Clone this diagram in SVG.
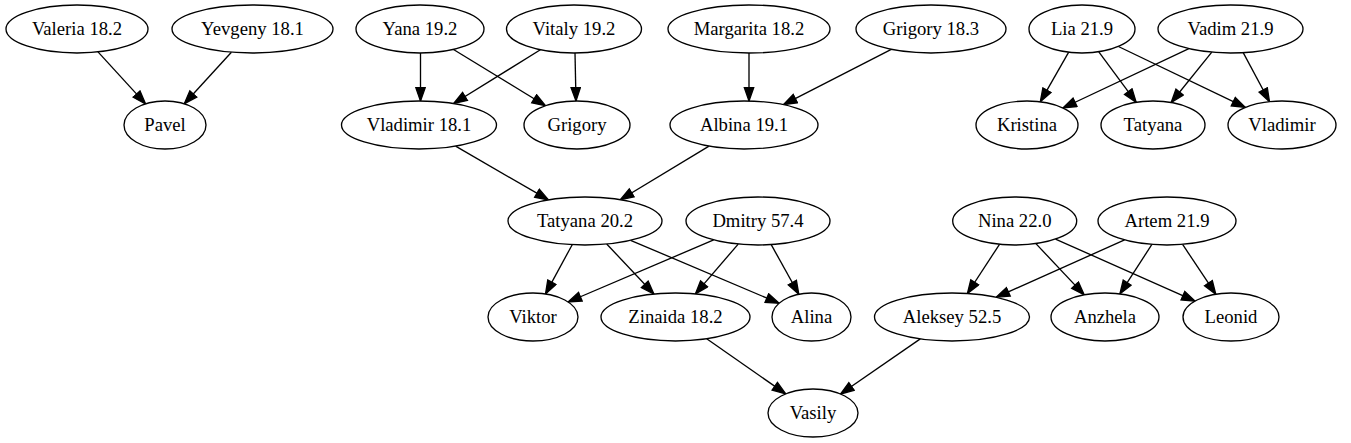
<svg xmlns="http://www.w3.org/2000/svg" width="1351" height="443" viewBox="0 0 1351 443">
<style>
.n ellipse{fill:#fff;stroke:#000;stroke-width:1.33}
.n text{font-family:"Liberation Serif","Times New Roman",Times,"DejaVu Serif","Noto Serif",serif;font-size:18.67px;text-anchor:middle;fill:#000}
#edges line{stroke:#000;stroke-width:1.33;marker-end:url(#ah)}
</style>
<defs>
<marker id="ah" markerUnits="userSpaceOnUse" markerWidth="16" markerHeight="12" viewBox="-1 -1 16 12" refX="13.33" refY="4.67" orient="auto">
<path d="M0,0 L13.33,4.67 L0,9.33 z" fill="#000" stroke="#000" stroke-width="1.33"/>
</marker>
</defs>
<rect width="1351" height="443" fill="#fff"/>
<g id="edges">
<line x1="98" y1="51.9" x2="145.6" y2="103.9"/>
<line x1="231.4" y1="52.2" x2="184.3" y2="103.8"/>
<line x1="420.5" y1="53" x2="420.5" y2="101"/>
<line x1="453.5" y1="49.5" x2="545.5" y2="105.7"/>
<line x1="540.4" y1="49.8" x2="453.7" y2="103.5"/>
<line x1="575" y1="53" x2="576" y2="101"/>
<line x1="749" y1="53" x2="749" y2="101"/>
<line x1="891.3" y1="49.4" x2="783.5" y2="104.7"/>
<line x1="1068.7" y1="52.2" x2="1040.3" y2="101.8"/>
<line x1="1098.8" y1="51.8" x2="1136.2" y2="102.3"/>
<line x1="1118.4" y1="46.5" x2="1245.3" y2="107.4"/>
<line x1="1188.9" y1="48.6" x2="1063" y2="108"/>
<line x1="1211.8" y1="52.2" x2="1171.2" y2="102.5"/>
<line x1="1243.2" y1="52.6" x2="1269.5" y2="101.7"/>
<line x1="455.6" y1="146.2" x2="548.5" y2="199.9"/>
<line x1="709" y1="146.1" x2="620.3" y2="199.7"/>
<line x1="572.2" y1="244.7" x2="545.5" y2="293.9"/>
<line x1="606.7" y1="244" x2="653.9" y2="294"/>
<line x1="630.6" y1="240.3" x2="779.1" y2="303.3"/>
<line x1="713.7" y1="239.9" x2="568.1" y2="302"/>
<line x1="738.2" y1="244.1" x2="695.4" y2="293.9"/>
<line x1="771.2" y1="244.6" x2="798.8" y2="294.3"/>
<line x1="999.5" y1="244.3" x2="967.4" y2="293.5"/>
<line x1="1035.9" y1="243.6" x2="1084.2" y2="294.9"/>
<line x1="1055.5" y1="239.1" x2="1195.1" y2="301.1"/>
<line x1="1124.6" y1="239.9" x2="996.2" y2="297.3"/>
<line x1="1151.9" y1="244.4" x2="1119.9" y2="293.9"/>
<line x1="1182.6" y1="244.4" x2="1215.8" y2="294.2"/>
<line x1="706.7" y1="338.8" x2="785.7" y2="393.9"/>
<line x1="920.3" y1="338.9" x2="840.5" y2="394"/>
</g>
<g id="valeria" class="n"><ellipse cx="77" cy="29" rx="71" ry="24"/><text x="77" y="35">Valeria 18.2</text></g>
<g id="yevgeny" class="n"><ellipse cx="252.5" cy="29" rx="80.5" ry="24"/><text x="252.5" y="35">Yevgeny 18.1</text></g>
<g id="yana" class="n"><ellipse cx="420" cy="29" rx="64" ry="24"/><text x="420" y="35">Yana 19.2</text></g>
<g id="vitaly" class="n"><ellipse cx="574" cy="29" rx="67.5" ry="24"/><text x="574" y="35">Vitaly 19.2</text></g>
<g id="margarita" class="n"><ellipse cx="749" cy="29" rx="81" ry="24"/><text x="749" y="35">Margarita 18.2</text></g>
<g id="grigory183" class="n"><ellipse cx="931" cy="29" rx="75" ry="24"/><text x="931" y="35">Grigory 18.3</text></g>
<g id="lia" class="n"><ellipse cx="1082" cy="29" rx="53" ry="24"/><text x="1082" y="35">Lia 21.9</text></g>
<g id="vadim" class="n"><ellipse cx="1230.5" cy="29" rx="72.5" ry="24"/><text x="1230.5" y="35">Vadim 21.9</text></g>
<g id="pavel" class="n"><ellipse cx="165" cy="125" rx="41" ry="24"/><text x="165" y="131">Pavel</text></g>
<g id="vladimir181" class="n"><ellipse cx="419" cy="125" rx="77.5" ry="24"/><text x="419" y="131">Vladimir 18.1</text></g>
<g id="grigory" class="n"><ellipse cx="577" cy="125" rx="53" ry="24"/><text x="577" y="131">Grigory</text></g>
<g id="albina" class="n"><ellipse cx="744" cy="125" rx="74" ry="24"/><text x="744" y="131">Albina 19.1</text></g>
<g id="kristina" class="n"><ellipse cx="1027" cy="125" rx="51" ry="24"/><text x="1027" y="131">Kristina</text></g>
<g id="tatyana" class="n"><ellipse cx="1153" cy="125" rx="52" ry="24"/><text x="1153" y="131">Tatyana</text></g>
<g id="vladimir" class="n"><ellipse cx="1282" cy="125" rx="54" ry="24"/><text x="1282" y="131">Vladimir</text></g>
<g id="tatyana202" class="n"><ellipse cx="585" cy="221" rx="77" ry="24"/><text x="585" y="227">Tatyana 20.2</text></g>
<g id="dmitry" class="n"><ellipse cx="758" cy="221" rx="72" ry="24"/><text x="758" y="227">Dmitry 57.4</text></g>
<g id="nina" class="n"><ellipse cx="1014.7" cy="221" rx="62" ry="24"/><text x="1014.7" y="227">Nina 22.0</text></g>
<g id="artem" class="n"><ellipse cx="1167" cy="221" rx="69" ry="24"/><text x="1167" y="227">Artem 21.9</text></g>
<g id="viktor" class="n"><ellipse cx="533" cy="317" rx="45" ry="24"/><text x="533" y="323">Viktor</text></g>
<g id="zinaida" class="n"><ellipse cx="675.5" cy="317" rx="74.5" ry="24"/><text x="675.5" y="323">Zinaida 18.2</text></g>
<g id="alina" class="n"><ellipse cx="811.5" cy="317" rx="39.5" ry="24"/><text x="811.5" y="323">Alina</text></g>
<g id="aleksey" class="n"><ellipse cx="952" cy="317" rx="77.5" ry="24"/><text x="952" y="323">Aleksey 52.5</text></g>
<g id="anzhela" class="n"><ellipse cx="1105" cy="317" rx="54" ry="24"/><text x="1105" y="323">Anzhela</text></g>
<g id="leonid" class="n"><ellipse cx="1231" cy="317" rx="48" ry="24"/><text x="1231" y="323">Leonid</text></g>
<g id="vasily" class="n"><ellipse cx="813" cy="413" rx="45" ry="24"/><text x="813" y="419">Vasily</text></g>
</svg>
